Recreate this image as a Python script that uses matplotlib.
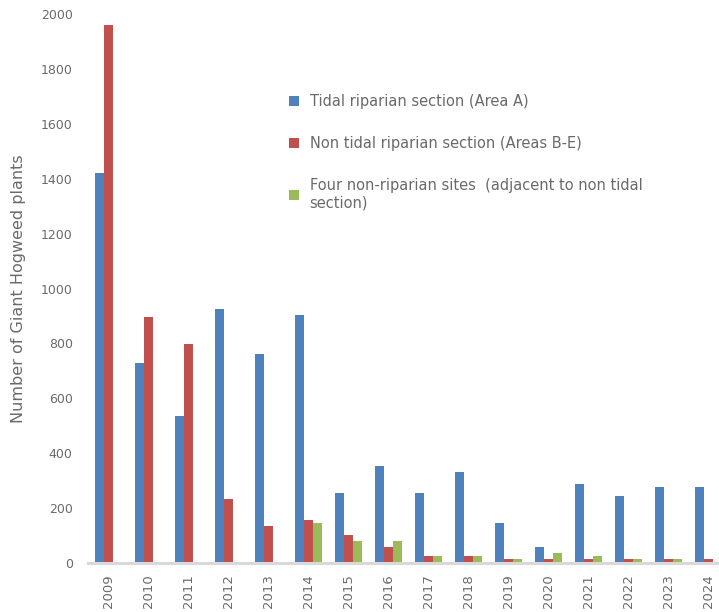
import numpy as np
import matplotlib
matplotlib.use("Agg")
import matplotlib.pyplot as plt

years = ["2009", "2010", "2011", "2012", "2013", "2014", "2015", "2016",
         "2017", "2018", "2019", "2020", "2021", "2022", "2023", "2024"]
tidal = [1420, 730, 535, 925, 762, 902, 254, 352, 254, 331, 145, 57, 287, 243, 276, 276]
non_tidal = [1960, 895, 796, 232, 134, 156, 101, 57, 24, 24, 13, 13, 13, 13, 13, 13]
non_riparian = [0, 0, 0, 0, 0, 145, 79, 79, 24, 24, 13, 35, 24, 13, 13, 0]

labels = ["Tidal riparian section (Area A)",
          "Non tidal riparian section (Areas B-E)",
          "Four non-riparian sites  (adjacent to non tidal\nsection)"]
colors = ["#4F81BD", "#C0504D", "#9BBB59"]
gray = "#6a6a6a"

fig = plt.figure(figsize=(7.19, 6.12), dpi=100)
ax = fig.add_axes([88/719, 49/612, 640.5/719, 549/612])

x = np.arange(len(years))
w = 0.225
for i, (vals, lab, c) in enumerate(zip([tidal, non_tidal, non_riparian], labels, colors)):
    ax.bar(x + (i - 1) * w, vals, width=w, color=c, label=lab)

ax.set_xlim(-0.5, len(years) - 0.5)
ax.set_ylim(0, 2000)
ax.set_yticks(np.arange(0, 2001, 200))
ax.set_xticks(x)
ax.set_xticklabels(years, rotation=90)

for s in ["top", "right", "left"]:
    ax.spines[s].set_visible(False)
ax.spines["bottom"].set_color("#d9d9d9")
ax.spines["bottom"].set_linewidth(2.2)

ax.tick_params(axis="y", length=0, pad=11, labelsize=9, labelcolor=gray)
ax.tick_params(axis="x", length=0, pad=8, labelsize=9.5, labelcolor=gray)

ax.set_ylabel("Number of Giant Hogweed plants", fontsize=11.5, color=gray)
ax.yaxis.set_label_coords(-0.097, 0.5)

leg = ax.legend(loc="upper left", bbox_to_anchor=(276/719, 1 - 81/612),
                bbox_transform=fig.transFigure, frameon=False,
                fontsize=10.5, labelcolor=gray, handlelength=0.7, handleheight=0.7,
                handletextpad=0.7, labelspacing=1.85)

fig.savefig("out.png", dpi=100)
